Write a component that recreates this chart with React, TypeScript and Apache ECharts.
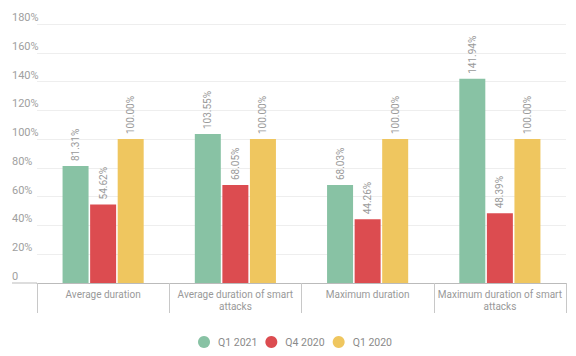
import React, { useEffect, useRef } from "react";
import * as echarts from "echarts";

const categories = [
  "Average duration",
  "Average duration of smart attacks",
  "Maximum duration",
  "Maximum duration of smart attacks",
];
const seriesNames = ["Q1 2021", "Q4 2020", "Q1 2020"];
const q12021 = [81.31, 103.55, 68.03, 141.94];
const q42020 = [54.62, 68.05, 44.26, 48.39];
const q12020 = [100.0, 100.0, 100.0, 100.0];
const colors = ["#88c2a4", "#dc4c50", "#efc65f"];

export default function App() {
  const ref = useRef<HTMLDivElement>(null);
  useEffect(() => {
    if (!ref.current) return;
    const chart = echarts.init(ref.current, undefined, { renderer: "svg" });
    const font = "Roboto";
    const mk = (name: string, data: number[], color: string) => ({
      name,
      type: "bar",
      data,
      barWidth: 26,
      barGap: "6%",
      itemStyle: { color },
      label: {
        show: true,
        position: "top",
        rotate: 90,
        align: "left",
        verticalAlign: "middle",
        distance: 5,
        color: "#9a9a9a",
        fontSize: 10,
        fontFamily: font,
        formatter: (p: any) => p.value.toFixed(2) + "%",
      },
    });
    chart.setOption({
      animation: false,
      textStyle: { fontFamily: font },
      grid: { left: 37, right: 10, top: 24, bottom: 73, containLabel: false },
      legend: {
        data: seriesNames,
        left: 193,
        top: 331,
        icon: "circle",
        itemWidth: 12,
        itemHeight: 12,
        itemGap: 8,
        textStyle: { color: "#8a8a8a", fontSize: 10.5, fontFamily: font, padding: [0, 0, 0, 3] },
      },
      xAxis: {
        type: "category",
        data: categories,
        axisLine: { lineStyle: { color: "#bbbbbb" } },
        axisTick: { show: true, length: 30, lineStyle: { color: "#c8c8c8" } },
        axisLabel: {
          interval: 0,
          color: "#999999",
          fontSize: 10,
          fontFamily: font,
          margin: 5,
          lineHeight: 12,
          formatter: (v: string) => {
            if (v.length <= 20) return v;
            const i = v.lastIndexOf(" ");
            return v.slice(0, i) + "\n" + v.slice(i + 1);
          },
        },
      },
      yAxis: {
        type: "value",
        min: 0,
        max: 180,
        interval: 20,
        axisLine: { show: false },
        axisTick: { show: false },
        splitLine: { lineStyle: { color: "#eeeeee" } },
        axisLabel: {
          color: "#a0a0a0",
          fontSize: 11,
          fontFamily: font,
          align: "left",
          verticalAlign: "bottom",
          margin: 25,
          padding: [0, 0, 1, 0],
          formatter: (v: number) => (v === 0 ? "0" : v + "%"),
        },
      },
      graphic: [
        {
          type: "line",
          shape: { x1: 12, y1: 283, x2: 37, y2: 283 },
          style: { stroke: "#bbbbbb", lineWidth: 1 },
        },
      ],
      series: [
        mk(seriesNames[0], q12021, colors[0]),
        mk(seriesNames[1], q42020, colors[1]),
        mk(seriesNames[2], q12020, colors[2]),
      ],
    });
    return () => chart.dispose();
  }, []);
  return <div ref={ref} style={{ width: 576, height: 356, margin: -8 }} />;
}
